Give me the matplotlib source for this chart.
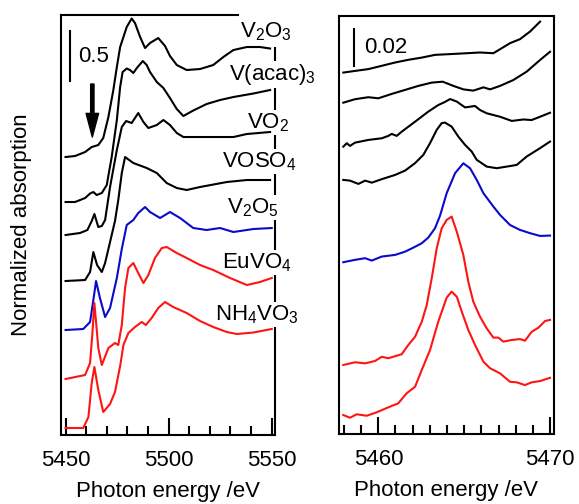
import matplotlib
matplotlib.use("Agg")
import matplotlib.pyplot as plt
from matplotlib.ticker import MultipleLocator
import numpy as np

plt.rcParams.update({
    "font.family": ["Liberation Sans", "DejaVu Sans"],
    "font.size": 16,
    "mathtext.fontset": "custom",
    "mathtext.rm": "Liberation Sans",
    "mathtext.it": "Liberation Sans:italic",
    "axes.linewidth": 1.5,
    "lines.linewidth": 1.5,
})

BLACK, BLUE, RED = "#000000", "#0a0acc", "#ff1414"

# ── V K-edge XANES (left panel), values relative to pre-edge baseline ────────
e_v2o3 = [5450, 5454.6, 5459.5, 5462.7, 5465.9, 5468.3, 5470.8, 5473.2, 5474.9, 5476.5,
          5478.1, 5479.7, 5482.1, 5483.7, 5486.2, 5488.6, 5491.0, 5493.4, 5495.0, 5498.3,
          5500.7, 5504.0, 5508.8, 5515.3, 5521.7, 5526.6, 5531.5, 5538.0, 5544.4, 5549.3]
a_v2o3 = [0, .01, .05, .10, .12, .19, .40, .67, .90, 1.10,
          1.20, 1.30, 1.385, 1.34, 1.20, 1.09, 1.14, 1.17, 1.19, 1.11,
          1.01, .92, .87, .88, .92, 1.00, 1.07, 1.10, 1.10, 1.085]

e_vacac = [5450, 5454.6, 5459.5, 5461.9, 5463.5, 5465.1, 5467.6, 5470.0, 5472.4, 5474.9,
           5476.5, 5477.7, 5479.7, 5481.3, 5482.9, 5484.6, 5487.5, 5489.4, 5491.0, 5494.3,
           5497.5, 5500.7, 5504.0, 5507.2, 5512.0, 5518.5, 5525.0, 5531.5, 5541.2, 5549.3]
a_vacac = [0, 0, .04, .085, .10, .07, .09, .17, .45, .82,
           1.15, 1.30, 1.335, 1.32, 1.29, 1.34, 1.41, 1.37, 1.30, 1.20,
           1.14, 1.04, .93, .86, .915, .98, 1.02, 1.05, 1.085, 1.12]

e_vo2 = [5450, 5457.0, 5460.6, 5462.7, 5464.0, 5465.9, 5467.6, 5469.2, 5471.6, 5474.9,
         5477.3, 5479.4, 5482.1, 5485.3, 5487.8, 5490.2, 5494.3, 5497.5, 5500.7, 5504.0,
         5507.2, 5515.3, 5523.4, 5531.5, 5538.0, 5549.3]
a_vo2 = [0, .02, .05, .14, .21, .08, .09, .15, .48, .85,
         1.08, 1.14, 1.12, 1.22, 1.13, 1.07, 1.10, 1.15, 1.10, 1.02,
         .98, .98, .98, .98, 1.01, 1.03]

e_voso4 = [5450, 5459.5, 5461.9, 5463.5, 5465.3, 5467.6, 5469.2, 5471.6, 5474.0, 5475.6,
           5477.3, 5478.9, 5482.9, 5489.4, 5494.3, 5499.1, 5504.0, 5508.8, 5515.3, 5528.3,
           5538.0, 5549.3]
a_voso4 = [0, .01, .09, .29, .16, .09, .18, .39, .60, .81,
           1.08, 1.24, 1.18, 1.13, 1.08, .98, .93, .91, .94, .99,
           1.01, 1.01]

e_v2o5 = [5450, 5458.6, 5461.9, 5463.5, 5464.8, 5466.7, 5469.2, 5471.6, 5474.9, 5477.3,
          5479.7, 5482.9, 5485.3, 5488.6, 5491.0, 5495.9, 5500.7, 5505.6, 5512.0, 5518.5,
          5525.0, 5531.5, 5541.2, 5550.1]
a_v2o5 = [0, .01, .08, .30, .49, .32, .13, .22, .52, .81,
          1.05, 1.10, 1.17, 1.23, 1.18, 1.12, 1.18, 1.12, 1.02, 1.00,
          1.02, .98, 1.01, 1.02]

e_euvo4 = [5450, 5459.5, 5461.9, 5463.0, 5464.0, 5465.9, 5467.6, 5470.8, 5474.0, 5475.6,
           5477.3, 5478.9, 5480.5, 5482.9, 5485.3, 5487.8, 5490.2, 5493.4, 5496.7, 5499.1,
           5504.0, 5508.8, 5515.3, 5521.7, 5529.9, 5538.0, 5544.4, 5550.1]
a_euvo4 = [0, .04, .16, .45, .76, .31, .14, .31, .36, .34,
           .54, .91, 1.11, 1.16, 1.06, .96, 1.04, 1.21, 1.31, 1.32,
           1.26, 1.21, 1.14, 1.09, 1.01, .94, .97, 1.01]

e_nh4vo3 = [5450, 5458.6, 5461.1, 5462.7, 5464.0, 5465.9, 5468.3, 5471.6, 5474.0, 5476.5,
            5478.1, 5480.5, 5483.7, 5487.0, 5489.0, 5491.8, 5495.0, 5498.3, 5502.3, 5508.8,
            5515.3, 5521.7, 5528.3, 5533.1, 5541.2, 5550.1]
a_nh4vo3 = [0, 0, .11, .45, .61, .38, .16, .24, .36, .62,
            .83, .95, 1.01, 1.06, 1.03, 1.10, 1.20, 1.26, 1.21, 1.15,
            1.07, 1.01, .96, .94, .955, .99]

# ── pre-edge region (right panel) ─────────────────────────────────────────────
pe_v2o3 = [5457.96, 5458.64, 5459.42, 5460.20, 5460.97, 5461.75, 5462.53, 5463.30, 5464.37,
           5465.15, 5465.92, 5466.70, 5467.09, 5467.67, 5468.25, 5468.84, 5469.42]
pa_v2o3 = [0, .0009, .0019, .0037, .0055, .0070, .0082, .0097, .0102,
           .0106, .0110, .0106, .0128, .0161, .0183, .0225, .0279]

pe_vacac = [5457.96, 5458.64, 5459.42, 5460.00, 5460.78, 5461.56, 5462.33, 5463.11, 5463.75,
            5464.37, 5464.95, 5465.53, 5466.12, 5466.51, 5467.09, 5467.86, 5468.64, 5469.42,
            5470.00]
pa_vacac = [0, .0019, .0030, .0024, .0048, .0070, .0092, .0110, .0115,
            .0092, .0073, .0066, .0084, .0073, .0092, .0124, .0170, .0234,
            .0279]

pe_vo2 = [5457.96, 5458.16, 5458.35, 5458.64, 5459.42, 5460.20, 5460.58, 5460.78, 5461.07,
          5461.36, 5462.14, 5462.91, 5463.49, 5463.88, 5464.18, 5464.57, 5465.05, 5465.63,
          5465.92, 5466.31, 5467.09, 5467.77, 5468.45, 5468.93, 5469.42, 5470.00]
pa_vo2 = [0, .0019, .0004, .0022, .0037, .0046, .0059, .0070, .0059,
          .0082, .0137, .0192, .0228, .0245, .0261, .0247, .0215, .0223,
          .0201, .0183, .0164, .0141, .0149, .0146, .0164, .0186]

pe_voso4 = [5457.96, 5458.35, 5458.84, 5459.23, 5459.62, 5460.20, 5460.97, 5461.56, 5462.14,
            5462.62, 5463.01, 5463.40, 5463.69, 5463.88, 5464.27, 5464.66, 5465.05, 5465.44,
            5465.73, 5466.31, 5466.90, 5467.48, 5468.06, 5468.64, 5469.42, 5470.00]
pa_voso4 = [0, -.0004, -.0022, -.0004, -.0015, .0004, .0027, .0051, .0092,
            .0137, .0201, .0274, .0311, .0314, .0292, .0237, .0192, .0155,
            .0110, .0073, .0064, .0073, .0082, .0128, .0174, .0210]

pe_v2o5 = [5457.96, 5458.64, 5459.23, 5459.62, 5460.20, 5460.97, 5461.56, 5462.04, 5462.53,
           5462.91, 5463.30, 5463.59, 5463.98, 5464.47, 5464.95, 5465.34, 5465.73, 5466.12,
           5466.70, 5467.09, 5467.67, 5468.25, 5468.84, 5469.42, 5470.00]
pa_v2o5 = [0, .0013, .0022, .0009, .0031, .0040, .0058, .0080, .0104,
           .0135, .0186, .0254, .0378, .0488, .0542, .0515, .0451, .0378,
           .0305, .0259, .0204, .0177, .0159, .0144, .0146]

pe_euvo4 = [5457.96, 5458.64, 5459.23, 5459.81, 5460.20, 5460.58, 5461.36, 5461.75, 5462.14,
            5462.53, 5462.82, 5463.11, 5463.40, 5463.69, 5463.98, 5464.27, 5464.57, 5464.95,
            5465.24, 5465.53, 5465.92, 5466.31, 5466.70, 5466.99, 5467.28, 5467.77, 5468.25,
            5468.54, 5468.93, 5469.32, 5469.71, 5470.00]
pa_euvo4 = [0, .0015, .0009, .0022, .0045, .0037, .0059, .0110, .0155,
            .0237, .0329, .0475, .0639, .0749, .0795, .0813, .0730, .0603,
            .0456, .0347, .0265, .0201, .0150, .0150, .0128, .0137, .0142,
            .0133, .0182, .0204, .0241, .0247]

pe_nh4vo3 = [5457.96, 5458.35, 5458.74, 5459.32, 5459.91, 5460.58, 5461.16, 5461.65, 5462.14,
             5462.53, 5463.01, 5463.49, 5463.98, 5464.27, 5464.57, 5464.86, 5465.24, 5465.63,
             5466.12, 5466.51, 5467.09, 5467.67, 5468.06, 5468.54, 5468.93, 5469.42, 5470.00]
pa_nh4vo3 = [0, -.0015, .0004, -.0004, .0015, .0042, .0064, .0119, .0155,
             .0247, .0356, .0511, .0643, .0676, .0648, .0566, .0466, .0384,
             .0292, .0256, .0228, .0182, .0179, .0164, .0179, .0186, .0204]

LABELS = [r"$\mathregular{V_2O_3}$", r"$\mathregular{V(acac)_3}$", r"$\mathregular{VO_2}$",
          r"$\mathregular{VOSO_4}$", r"$\mathregular{V_2O_5}$", r"$\mathregular{EuVO_4}$",
          r"$\mathregular{NH_4VO_3}$"]
COLORS = [BLACK, BLACK, BLACK, BLACK, BLUE, RED, RED]
OFFSETS = [2.78, 2.33, 2.00, 1.54, 1.05, 0.56, 0.07]
PRE_OFFSETS = [0.198, 0.1815, 0.1574, 0.1392, 0.0941, 0.0378, 0.0104]

xanes = [(e_v2o3, a_v2o3), (e_vacac, a_vacac), (e_vo2, a_vo2), (e_voso4, a_voso4),
         (e_v2o5, a_v2o5), (e_euvo4, a_euvo4), (e_nh4vo3, a_nh4vo3)]
pre = [(pe_v2o3, pa_v2o3), (pe_vacac, pa_vacac), (pe_vo2, pa_vo2), (pe_voso4, pa_voso4),
       (pe_v2o5, pa_v2o5), (pe_euvo4, pa_euvo4), (pe_nh4vo3, pa_nh4vo3)]

# label anchor (x centre, baseline) in left-panel data coords
LABEL_POS = [(5547.1, 3.98), (5550.5, 3.55), (5548.3, 3.07), (5544.2, 2.68),
             (5541.0, 2.22), (5543.0, 1.67), (5542.7, 1.15)]

# ── figure ────────────────────────────────────────────────────────────────────
fig = plt.figure(figsize=(5.79, 5.04), dpi=100)
ax1 = fig.add_axes([0.1054, 0.1369, 0.3696, 0.8333])
ax2 = fig.add_axes([0.5855, 0.1389, 0.3713, 0.8294])

for ax in (ax1, ax2):
    ax.set_yticks([])
    ax.tick_params(axis="x", which="major", direction="in", length=12, width=1.5, pad=11)
    ax.tick_params(axis="x", which="minor", direction="in", length=6.5, width=1.5)
    ax.set_xlabel("Photon energy /eV", labelpad=7)

ax1.set_xlim(5447.8, 5551.7)
ax1.set_ylim(0, 4.2)
ax1.set_xticks([5450, 5500, 5550])
ax1.xaxis.set_minor_locator(MultipleLocator(10))
ax1.set_ylabel("Normalized absorption", labelpad=21)

ax2.set_xlim(5457.71, 5470.23)
ax2.set_ylim(0, 0.229)
ax2.set_xticks([5460, 5470])
ax2.xaxis.set_minor_locator(MultipleLocator(1))

for (e, a), off, c in zip(xanes, OFFSETS, COLORS):
    ax1.plot(e, np.array(a) + off, color=c, lw=1.5, zorder=3)
for (e, a), off, c in zip(pre, PRE_OFFSETS, COLORS):
    ax2.plot(e, np.array(a) + off, color=c, lw=1.5, zorder=3)

# white boxes behind the labels break the frame, the spectra stay on top
for lab, (x, y) in zip(LABELS, LABEL_POS):
    ax1.text(x, y, lab, ha="center", va="baseline", zorder=2.8, clip_on=False,
             bbox=dict(facecolor="white", edgecolor="none", pad=1))

ax1.spines["top"].set_bounds(5447.8, 5533.7)
ax1.spines["right"].set_bounds(0, 3.87)

# scale bars
ax1.plot([5452.2, 5452.2], [3.54, 4.04], color="k", lw=1.5)
ax1.text(5455.9, 3.733, "0.5", ha="left", va="baseline")
ax2.plot([5458.58, 5458.58], [0.2016, 0.2216], color="k", lw=1.5)
ax2.text(5459.18, 0.2086, "0.02", ha="left", va="baseline")

# arrow marking the pre-edge
ax1.annotate("", xy=(5463.0, 2.98), xytext=(5463.0, 3.51),
             arrowprops=dict(facecolor="black", edgecolor="black", width=2.4,
                             headwidth=9, headlength=17, shrink=0))

fig.savefig("out.png", dpi=100)
